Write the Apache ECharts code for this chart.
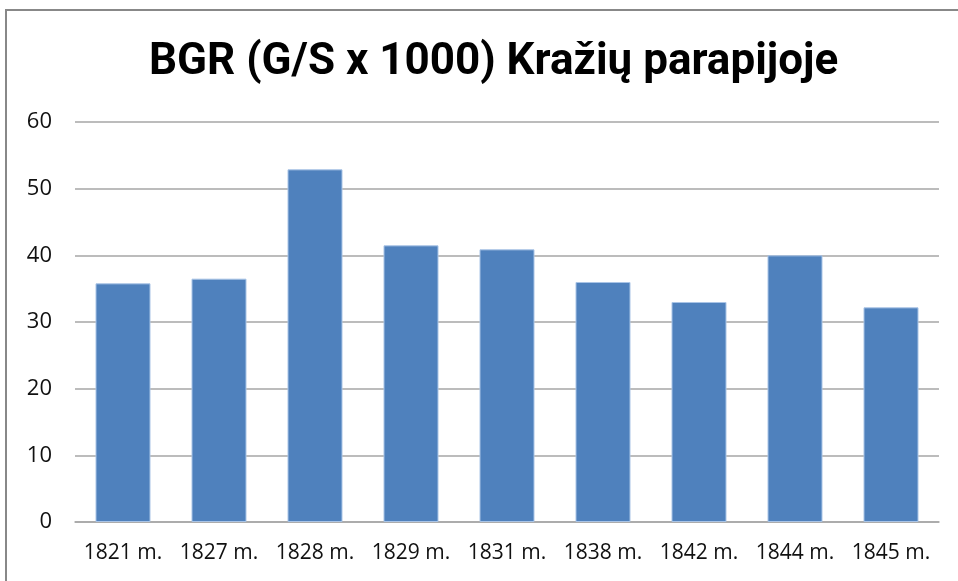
<!DOCTYPE html>
<html>
<head>
<meta charset="utf-8">
<style>
  html, body { margin: 0; padding: 0; background: #fff; }
  #main { width: 958px; height: 581px; }
</style>
</head>
<body>
<div id="main"></div>
<script src="https://cdn.jsdelivr.net/npm/echarts@6/dist/echarts.min.js"></script>
<script type="text/javascript">
    // duomenys
    var years = ['1821 m.', '1827 m.', '1828 m.', '1829 m.', '1831 m.', '1838 m.', '1842 m.', '1844 m.', '1845 m.'];
    var bgrValues = [35.8, 36.5, 52.9, 41.5, 40.9, 36.0, 33.0, 40.0, 32.2];

    var myChart = echarts.init(document.getElementById('main'));

    var option = {
        backgroundColor: '#fff',
        animation: false,
        title: {
            text: 'BGR (G/S x 1000) Kražių parapijoje',
            left: 144,
            top: 36,
            textStyle: {
                fontFamily: 'Roboto',
                fontWeight: 'bold',
                fontSize: 44,
                color: '#000'
            }
        },
        // rėmelis aplink diagramą
        graphic: [{
            type: 'rect',
            shape: { x: 6, y: 10, width: 1000, height: 620 },
            style: { fill: 'none', stroke: '#888', lineWidth: 2 },
            silent: true
        }],
        grid: {
            left: 75,
            right: 19,
            top: 122,
            bottom: 59
        },
        xAxis: {
            type: 'category',
            data: years,
            axisTick: { show: false },
            axisLine: { lineStyle: { color: '#a6a6a6', width: 1.5 } },
            axisLabel: {
                interval: 0,
                hideOverlap: false,
                color: '#111',
                fontFamily: 'Open Sans',
                fontSize: 21,
                margin: 21
            }
        },
        yAxis: {
            type: 'value',
            min: 0,
            max: 60,
            interval: 10,
            axisLine: { show: false },
            axisTick: { show: false },
            splitLine: { lineStyle: { color: '#a6a6a6', width: 1.5 } },
            axisLabel: {
                color: '#111',
                fontFamily: 'Open Sans',
                fontSize: 22,
                margin: 23
            }
        },
        series: [{
            type: 'bar',
            data: bgrValues,
            barWidth: 55,
            itemStyle: {
                color: '#4f81bd',
                borderColor: '#a9c4e6',
                borderWidth: 1
            }
        }]
    };

    myChart.setOption(option);
</script>
</body>
</html>
